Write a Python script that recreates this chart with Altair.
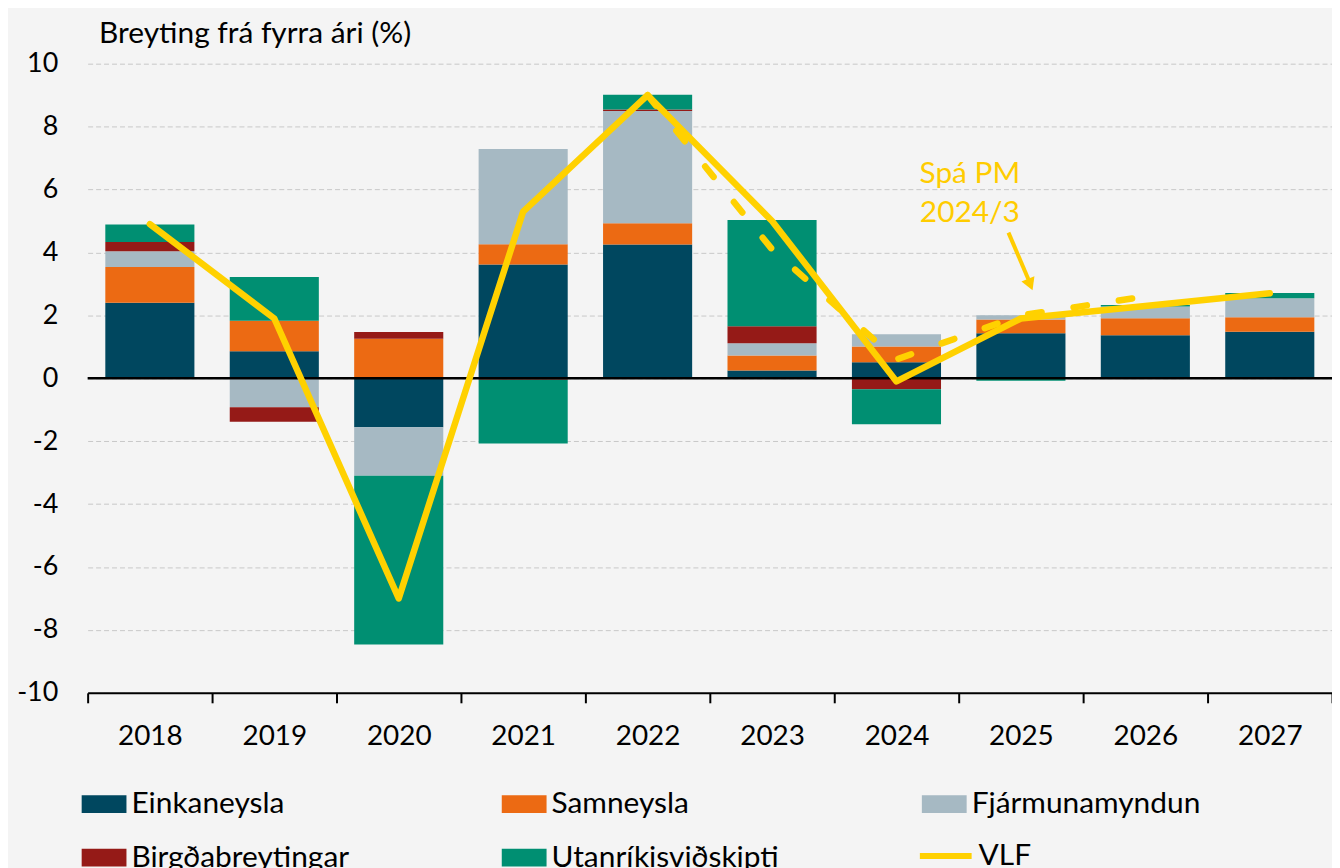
import altair as alt
import pandas as pd

FONT = "Lato"

years = ["2018", "2019", "2020", "2021", "2022", "2023", "2024", "2025", "2026", "2027"]
components = ["Einkaneysla", "Samneysla", "Fjármunamyndun", "Birgðabreytingar", "Utanríkisviðskipti"]
colors = ["#00475F", "#EC6A13", "#A6B9C3", "#951A17", "#008F72"]

einkaneysla = [2.40, 0.86, -1.56, 3.62, 4.25, 0.25, 0.51, 1.43, 1.37, 1.48]
samneysla = [1.14, 0.97, 1.26, 0.64, 0.68, 0.47, 0.50, 0.44, 0.54, 0.46]
fjarmunamyndun = [0.50, -0.92, -1.54, 3.03, 3.57, 0.39, 0.39, 0.13, 0.37, 0.60]
birgdabreytingar = [0.29, -0.46, 0.21, -0.05, 0.04, 0.54, -0.35, 0.00, 0.00, 0.00]
utanrikisvidskipti = [0.56, 1.39, -5.36, -2.02, 0.47, 3.38, -1.11, -0.08, 0.05, 0.17]

vlf = [4.9, 1.9, -7.0, 5.3, 9.0, 5.0, -0.1, 1.9, 2.3, 2.7]

spa_years = ["2022", "2023", "2024", "2025", "2026"]
spa_pm = [9.0, 4.1, 0.6, 2.0, 2.6]

annot_x = [7.09, 7.09]
annot_y = [6.21, 4.98]
annot_text = ["Spá PM", "2024/3"]
arrow_x, arrow_y, arrow_x2, arrow_y2 = [7.40], [4.63], [7.56], [3.15]
head_x, head_y = [7.575], [2.98]

series = [einkaneysla, samneysla, fjarmunamyndun, birgdabreytingar, utanrikisvidskipti]
rows = []
for i, (comp, vals) in enumerate(zip(components, series)):
    for yr, v in zip(years, vals):
        rows.append({"year": yr, "component": comp, "value": v, "order": i})
bar_df = pd.DataFrame(rows)
vlf_df = pd.DataFrame({"year": years, "value": vlf, "series": ["VLF"] * len(years)})
spa_df = pd.DataFrame({"year": spa_years, "value": spa_pm})
ann_df = pd.DataFrame({"x": annot_x, "value": annot_y, "text": annot_text})
arrow_df = pd.DataFrame({"x": arrow_x, "value": arrow_y, "x2": arrow_x2, "value2": arrow_y2})
head_df = pd.DataFrame({"x": head_x, "value": head_y})

TITLE = "Breyting frá fyrra ári (%)"
y_scale = alt.Scale(domain=[-10, 10], nice=False)
x_scale = alt.Scale(domain=years, paddingInner=0, paddingOuter=0)
ann_x_scale = alt.Scale(domain=[0, 10], nice=False, zero=False)

y_axis = alt.Axis(title=TITLE, values=list(range(-10, 11, 2)),
                  labelExpr="'' + datum.value", grid=True, gridDash=[5, 3],
                  gridColor="#C8C8C8", gridWidth=1, domain=False, ticks=False, tickSize=0,
                  labelFontSize=27, labelPadding=30, labelColor="black",
                  titleAngle=0, titleAlign="left", titleBaseline="alphabetic",
                  titleX=11, titleY=-21, titleFontSize=30, titleFontWeight="normal",
                  titleColor="black")

bars = alt.Chart(bar_df).mark_bar(width=alt.RelativeBandSize(0.716)).encode(
    x=alt.X("year:N", scale=x_scale, sort=years,
            axis=alt.Axis(title=None, labelAngle=0, tickBand="extent", domainColor="black",
                          domainWidth=2, tickColor="black", tickWidth=2, tickSize=10,
                          labelFontSize=28, labelPadding=20, labelColor="black", grid=False)),
    y=alt.Y("value:Q", stack="zero", scale=y_scale, axis=y_axis, title=TITLE),
    fill=alt.Fill("component:N", scale=alt.Scale(domain=components, range=colors),
                  legend=alt.Legend(title=None, orient="none", legendX=-6, legendY=721,
                                    direction="horizontal", columns=3, gridAlign="all",
                                    symbolType="M-1,-0.4H1V0.4H-1Z", symbolSize=2025,
                                    symbolStrokeWidth=0, labelFontSize=30, labelColor="black",
                                    labelOffset=5, columnPadding=142, rowPadding=16, padding=0,
                                    symbolOffset=0, labelLimit=0)),
    order=alt.Order("order:Q"),
)

zero = alt.Chart(pd.DataFrame({"value": [0]})).mark_rule(color="black", strokeWidth=2.5).encode(
    y=alt.Y("value:Q", scale=y_scale, title=TITLE)
)

dashed = alt.Chart(spa_df).mark_line(color="#FFD100", strokeWidth=6.5, strokeDash=[13.5, 32.5],
                                     strokeCap="round", strokeJoin="round").encode(
    x=alt.X("year:N", scale=x_scale, sort=years, axis=None),
    y=alt.Y("value:Q", scale=y_scale, title=TITLE),
)

line = alt.Chart(vlf_df).mark_line(strokeWidth=6.5, strokeCap="round", strokeJoin="round").encode(
    x=alt.X("year:N", scale=x_scale, sort=years, axis=None),
    y=alt.Y("value:Q", scale=y_scale, title=TITLE),
    stroke=alt.Stroke("series:N", scale=alt.Scale(domain=["VLF"], range=["#FFD100"]),
                      legend=alt.Legend(title=None, orient="none", legendX=833, legendY=767,
                                        symbolType="stroke", symbolSize=2704, symbolStrokeWidth=6,
                                        labelFontSize=30, labelColor="black", labelOffset=4,
                                        padding=0, symbolOffset=0)),
)

text = alt.Chart(ann_df).mark_text(fontSize=30, color="#FFCC00", align="center",
                                   baseline="alphabetic").encode(
    x=alt.X("x:Q", scale=ann_x_scale, axis=None),
    y=alt.Y("value:Q", scale=y_scale, title=TITLE),
    text="text:N",
)

arrow = alt.Chart(arrow_df).mark_rule(color="#FFCC00", strokeWidth=4).encode(
    x=alt.X("x:Q", scale=ann_x_scale, axis=None),
    y=alt.Y("value:Q", scale=y_scale, title=TITLE),
    x2="x2:Q",
    y2="value2:Q",
)

head = alt.Chart(head_df).mark_point(shape="triangle-down", filled=True, color="#FFCC00",
                                     size=200, angle=337.6, opacity=1).encode(
    x=alt.X("x:Q", scale=ann_x_scale, axis=None),
    y=alt.Y("value:Q", scale=y_scale, title=TITLE),
)

chart = alt.layer(bars, zero, dashed, line, text, arrow, head).resolve_scale(
    x="independent"
).properties(
    width=1250, height=632,
    padding={"left": 80, "top": 54, "right": 0, "bottom": 174},
    autosize=alt.AutoSizeParams(type="none"),
    background="#F4F4F4",
).configure(font=FONT).configure_view(stroke=None)

chart.save("out.html", embed_options={"renderer": "svg", "actions": False})
